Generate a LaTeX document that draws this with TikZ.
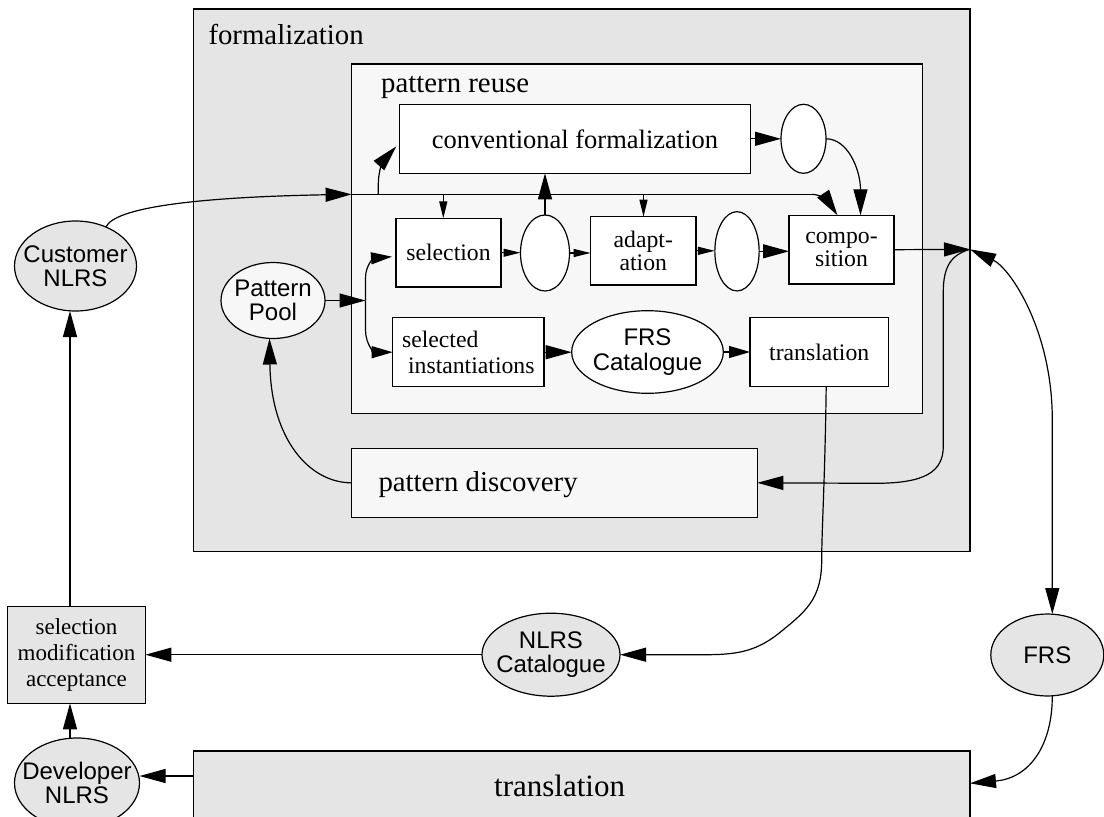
\documentclass[tikz,border=0pt]{standalone}
\usepackage{fontspec}
\setmainfont{Liberation Serif}
\setsansfont{Liberation Sans}
\usetikzlibrary{arrows.meta,shapes.geometric}
\definecolor{shadeA}{HTML}{E5E5E5}
\definecolor{shadeB}{HTML}{F7F7F7}
\begin{document}
\begin{tikzpicture}[x=1pt,y=-1pt,
  frame/.style={draw=black,line width=1.3pt,inner sep=0pt,outer sep=0pt},
  procbox/.style={frame,fill=white,align=center,font=\fontsize{23.7}{23}\selectfont},
  blob/.style={ellipse,draw=black,line width=1.2pt,inner sep=0pt,outer sep=0pt,fill=white},
  sanslbl/.style={font=\sffamily\fontsize{24}{24.5}\selectfont,align=center,inner sep=0pt},
  title/.style={font=\fontsize{28.8}{30}\selectfont,anchor=base west,inner sep=0pt},
  conn/.style={line width=1.2pt},
  arrbig/.style={conn,-{Triangle[length=26pt,width=14pt]}},
  arrboth/.style={conn,{Triangle[length=26pt,width=14pt]}-{Triangle[length=26pt,width=14pt]}},
  arrmed/.style={conn,-{Triangle[length=21pt,width=12pt]}},
  arrsmall/.style={conn,-{Triangle[length=17pt,width=8pt]}},
]
\useasboundingbox (0,0) rectangle (1104,817);
\fill[white] (0,0) rectangle (1104,817);
\clip (0,0) rectangle (1104,817);

% enclosing process boxes
\node[frame,fill=shadeA,minimum width=776.7pt,minimum height=542.5pt] (formal) at (581.65,280.25) {};
\node[frame,fill=shadeB,minimum width=571pt,minimum height=349.8pt] (reuse) at (637.1,238.9) {};
\node[frame,fill=shadeB,minimum width=405.6pt,minimum height=69pt] (disc) at (554.5,482.8) {};
\node[frame,fill=shadeA,minimum width=776.7pt,minimum height=150pt] (trout) at (581.65,826) {};

\node[title] (t-formal) at (208.3,44.3) {formalization};
\node[title] (t-reuse) at (381,92.3) {pattern reuse};
\node[title] (t-disc) at (378.3,491.7) {pattern discovery};
\node[title,font=\fontsize{31}{32}\selectfont] (t-trout) at (494,796) {translation};

% inner activities
\node[procbox,font=\fontsize{26.5}{28}\selectfont,minimum width=351.3pt,minimum height=69pt] (conv) at (575,138.8) {conventional formalization};
\node[procbox,minimum width=105pt,minimum height=68.7pt] (sel) at (448.5,252.7) {selection};
\node[procbox,minimum width=105.3pt,minimum height=68.3pt] (adapt) at (643.3,250.8) {adapt-\\ation};
\node[procbox,minimum width=105pt,minimum height=68.7pt] (comp) at (841.5,249.7) {compo-\\sition};
\node[procbox,align=left,font=\fontsize{23.7}{25.5}\selectfont,minimum width=151.3pt,minimum height=69pt] (selinst) at (468.3,352.2) {selected\\\hspace*{6pt}instantiations};
\node[procbox,minimum width=138.3pt,minimum height=69pt] (trin) at (819.2,352.2) {translation};
\node[procbox,fill=shadeA,font=\fontsize{23}{26}\selectfont,minimum width=137.7pt,minimum height=96.6pt] (sma) at (76.5,655) {selection\\modification\\acceptance};

% data stores
\node[blob,minimum width=49pt,minimum height=76pt] (e1) at (545,253) {};
\node[blob,minimum width=45pt,minimum height=69pt] (e2) at (803.5,138.8) {};
\node[blob,minimum width=44.3pt,minimum height=79.3pt] (e3) at (737,251.3) {};
\node[blob,fill=shadeB,minimum width=104pt,minimum height=76pt] (pool) at (273,300.5) {};
\node[blob,minimum width=151.6pt,minimum height=82.6pt] (frscat) at (647.5,352) {};
\node[blob,fill=shadeA,minimum width=122pt,minimum height=90pt] (cust) at (75.5,266) {};
\node[blob,fill=shadeA,minimum width=138pt,minimum height=83pt] (nlrscat) at (551,654.7) {};
\node[blob,fill=shadeA,minimum width=113pt,minimum height=82pt] (frs) at (1047.3,655) {};
\node[blob,fill=shadeA,minimum width=125pt,minimum height=90pt] (dev) at (77,783) {};

\node[sanslbl] (pool-t) at (pool) {Pattern\\Pool};
\node[sanslbl] (frscat-t) at (frscat) {FRS\\Catalogue};
\node[sanslbl] (cust-t) at (cust) {Customer\\NLRS};
\node[sanslbl] (nlrscat-t) at (nlrscat) {NLRS\\Catalogue};
\node[sanslbl] (frs-t) at (frs) {FRS};
\node[sanslbl] (dev-t) at (dev) {Developer\\NLRS};

% junction points
\coordinate (jin) at (351.6,194.3);
\coordinate (jline) at (812,194.3);
\coordinate (jbr) at (378.3,194.3);
\coordinate (jsel) at (443.3,194.3);
\coordinate (jadp) at (643.5,194.3);
\coordinate (jpool) at (365.5,300.5);
\coordinate (jout) at (970,249.3);
\coordinate (jfrs) at (1052.3,420);
\coordinate (tw) at (193.3,776);
\coordinate (te) at (970,783.3);

% connectors inside pattern reuse
\draw[arrbig] (cust.52) .. controls (115,207) and (200,197) .. (jin);
\draw[conn] (jin) -- (jline);
\draw[arrbig] (jline) .. controls (822,194.3) and (830,204) .. ([xshift=-4pt]comp.north);
\draw[arrbig] (jbr) -- (378.3,184) .. controls (378.3,170) and (384,160) .. ([xshift=-3pt,yshift=27pt]conv.south west);
\draw[arrsmall] (jsel) -- (jsel |- sel.north);
\draw[arrsmall] (jadp) -- (jadp |- adapt.north);
\draw[arrbig] (e1.north) -- (e1.north |- conv.south);
\draw[arrbig] (conv.east) -- (e2.west);
\draw[arrbig] (e2.east) .. controls (848,138.8) and (860.5,170) .. ([xshift=19pt]comp.north);
\draw[arrbig] (pool.east) -- (jpool);
\draw[arrmed] (jpool) -- (365.5,278) .. controls (365.5,264) and (375,258) .. ([shift={(-4pt,-4pt)}]sel.west);
\draw[arrmed] (jpool) -- (365.5,330) .. controls (365.5,345) and (375,352.2) .. (selinst.west);
\draw[arrsmall] (sel.east) -- (sel.east -| e1.west);
\draw[arrsmall] (e1.east) -- (e1.east -| adapt.west);
\draw[arrsmall] (adapt.east) -- (adapt.east -| e3.west);
\draw[arrbig] (e3.east) -- (e3.east -| comp.west);
\draw[arrbig] (selinst.east) -- (selinst.east -| frscat.west);
\draw[arrmed] (frscat.east) -- (frscat.east -| trin.west);

% connectors leaving formalization
\draw[arrbig] (comp.east) -- (jout);
\draw[arrbig] (jout) .. controls (950,255) and (943.3,268) .. (943.3,292) -- (943.3,446)
  .. controls (943.3,472) and (925,483.3) .. (875,483.3) -- (disc.east);
\draw[arrboth] (jout) .. controls (1010,268) and (1052.3,330) .. (jfrs) -- (jfrs |- frs.north);
\draw[arrbig] (disc.west) .. controls (310,483) and (271,440) .. ([xshift=-3.5pt]pool.south);
\draw[arrbig] ([xshift=7pt]trin.south) .. controls (825,480) and (821.7,530) .. (821.7,560)
  .. controls (821.7,600) and (805,612) .. (778,634)
  .. controls (755,652) and (735,654.7) .. (705,654.7) -- (nlrscat.east);
\draw[arrbig] (nlrscat.west) -- (nlrscat.west -| sma.east);
\draw[arrbig] ([xshift=-6.5pt]sma.north) -- ([xshift=-6.5pt]sma.north |- cust.south);
\draw[arrbig] ([xshift=-7pt]dev.north) -- ([xshift=-7pt]dev.north |- sma.south);
\draw[arrbig] (tw) -- (tw -| dev.east);
\draw[arrbig] ([xshift=5pt]frs.south) .. controls (1052.3,745) and (1030,778) .. (te);
\end{tikzpicture}
\end{document}
